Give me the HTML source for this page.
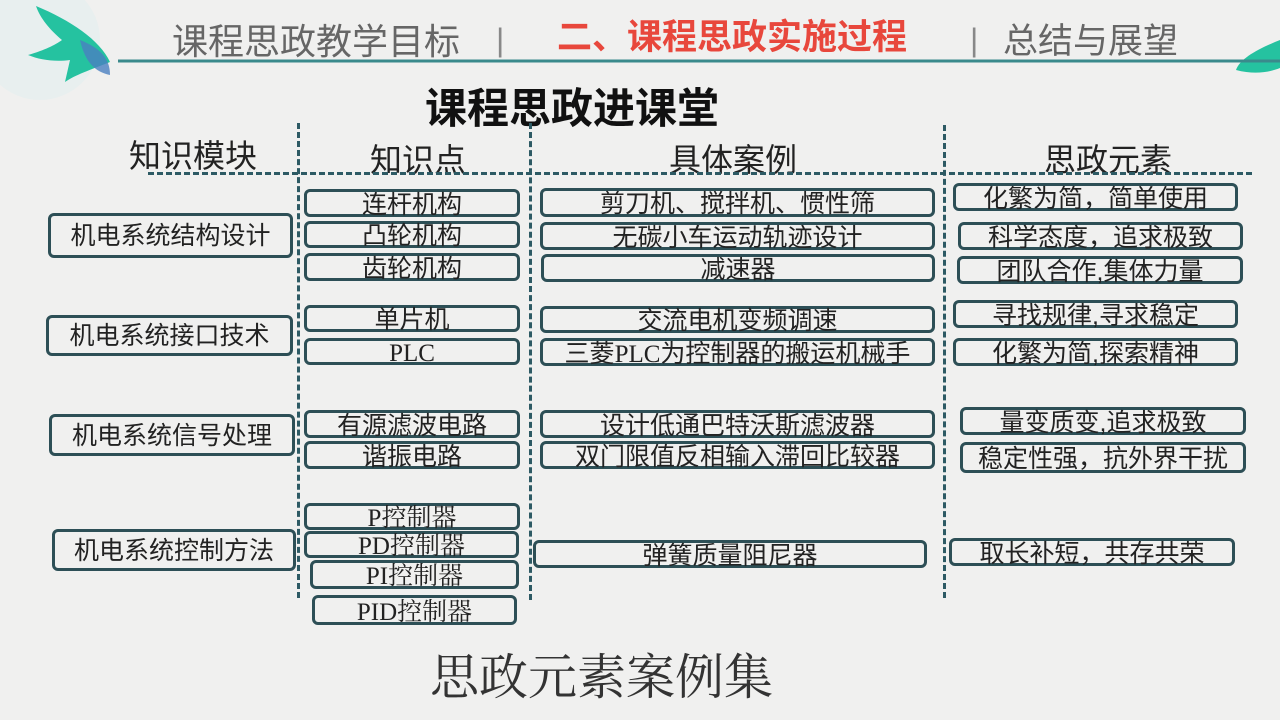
<!DOCTYPE html>
<html><head><meta charset="utf-8"><style>
body{margin:0}
#p{position:relative;width:1280px;height:720px;background:#f0f0ef;overflow:hidden;font-family:"Liberation Sans","Noto Sans CJK SC",sans-serif;color:#222}
.t{position:absolute;white-space:nowrap;line-height:1}
.b{position:absolute;box-sizing:border-box;border:3px solid #2d4f56;border-radius:6px;display:flex;align-items:center;justify-content:center;font-size:25px;color:#222;white-space:nowrap;line-height:1;padding-top:4px}
.m{font-size:25px;padding-top:2px}
.s{font-family:"Liberation Serif","Noto Serif CJK SC",serif}
.sr{font-family:"Liberation Serif",serif}
.h{position:absolute;font-size:32px;color:#222;transform:translateX(-50%);white-space:nowrap;line-height:1}
.vl{position:absolute;width:0;border-left:3px dashed #2d5a64}
</style></head><body><div id="p">
<svg style="position:absolute;left:0;top:0" width="1280" height="100">
<circle cx="40" cy="40" r="60" fill="#e3efee" opacity="0.6"/>
<path d="M36,6 C70,20 100,40 110,62 C90,70 75,75 65,82 L70,60 C55,62 40,60 28,55 C45,50 55,45 62,40 C50,30 40,18 36,6Z" fill="#25c2a0"/>
<path d="M80,40 C100,48 110,58 110,75 C95,72 85,62 80,40Z" fill="#4a7fc0" opacity="0.8"/>
<path d="M1280,40 C1260,48 1240,58 1236,70 C1255,75 1270,72 1280,68Z" fill="#25c2a0"/>
<line x1="118" y1="61" x2="1280" y2="61" stroke="#3a8a8c" stroke-width="3"/>
</svg>
<div class="t" style="left:172px;top:24px;font-size:36px;color:#666">课程思政教学目标</div>
<div class="t" style="left:496px;top:24px;font-size:32px;color:#888">|</div>
<div class="t" style="left:557px;top:20px;font-size:35px;color:#e8473c;font-weight:bold">二、课程思政实施过程</div>
<div class="t" style="left:970px;top:24px;font-size:32px;color:#888">|</div>
<div class="t" style="left:1003px;top:24px;font-size:35px;color:#666">总结与展望</div>
<div class="t" style="left:425px;top:88px;font-size:42px;font-weight:bold;color:#111">课程思政进课堂</div>
<div class="h" style="left:193px;top:140px">知识模块</div>
<div class="h" style="left:418px;top:144px">知识点</div>
<div class="h" style="left:733px;top:144px">具体案例</div>
<div class="h" style="left:1108px;top:144px">思政元素</div>
<div style="position:absolute;left:148px;top:172px;width:1104px;border-top:3px dashed #2d5a64"></div>
<div class="vl" style="left:297px;top:123px;height:475px"></div>
<div class="vl" style="left:529px;top:123px;height:477px"></div>
<div class="vl" style="left:943px;top:125px;height:473px"></div>

<div class="b m" style="left:48px;top:213px;width:245px;height:45px">机电系统结构设计</div>
<div class="b m" style="left:46px;top:315px;width:247px;height:41px">机电系统接口技术</div>
<div class="b m" style="left:49px;top:414px;width:246px;height:42px">机电系统信号处理</div>
<div class="b m" style="left:52px;top:529px;width:244px;height:42px">机电系统控制方法</div>

<div class="b" style="left:304px;top:189px;width:216px;height:28px">连杆机构</div>
<div class="b" style="left:304px;top:221px;width:216px;height:27px">凸轮机构</div>
<div class="b" style="left:304px;top:253px;width:216px;height:28px">齿轮机构</div>
<div class="b" style="left:304px;top:305px;width:216px;height:27px">单片机</div>
<div class="b s" style="left:304px;top:338px;width:216px;height:27px">PLC</div>
<div class="b" style="left:304px;top:410px;width:216px;height:28px">有源滤波电路</div>
<div class="b" style="left:304px;top:441px;width:216px;height:28px">谐振电路</div>
<div class="b s" style="left:304px;top:503px;width:216px;height:27px">P控制器</div>
<div class="b s" style="left:304px;top:531px;width:215px;height:27px">PD控制器</div>
<div class="b s" style="left:310px;top:560px;width:209px;height:29px">PI控制器</div>
<div class="b s" style="left:312px;top:595px;width:205px;height:30px">PID控制器</div>

<div class="b" style="left:540px;top:188px;width:395px;height:29px">剪刀机、搅拌机、惯性筛</div>
<div class="b" style="left:540px;top:222px;width:395px;height:28px">无碳小车运动轨迹设计</div>
<div class="b" style="left:541px;top:254px;width:394px;height:28px">减速器</div>
<div class="b" style="left:540px;top:306px;width:395px;height:27px">交流电机变频调速</div>
<div class="b" style="left:540px;top:338px;width:395px;height:28px">三菱<span class="sr">PLC</span>为控制器的搬运机械手</div>
<div class="b" style="left:540px;top:410px;width:395px;height:28px">设计低通巴特沃斯滤波器</div>
<div class="b" style="left:540px;top:441px;width:395px;height:28px">双门限值反相输入滞回比较器</div>
<div class="b" style="left:533px;top:540px;width:394px;height:28px">弹簧质量阻尼器</div>

<div class="b" style="left:953px;top:183px;width:285px;height:28px">化繁为简，简单使用</div>
<div class="b" style="left:958px;top:222px;width:285px;height:28px">科学态度，追求极致</div>
<div class="b" style="left:957px;top:256px;width:286px;height:28px">团队合作,集体力量</div>
<div class="b" style="left:953px;top:300px;width:285px;height:28px">寻找规律,寻求稳定</div>
<div class="b" style="left:953px;top:338px;width:285px;height:28px">化繁为简,探索精神</div>
<div class="b" style="left:960px;top:407px;width:286px;height:28px">量变质变,追求极致</div>
<div class="b" style="left:960px;top:442px;width:286px;height:31px">稳定性强，抗外界干扰</div>
<div class="b" style="left:949px;top:538px;width:286px;height:28px">取长补短，共存共荣</div>

<div class="t" style="left:430px;top:650px;font-size:49px;color:#333;font-family:'Noto Serif CJK SC',serif">思政元素案例集</div>
</div></body></html>
